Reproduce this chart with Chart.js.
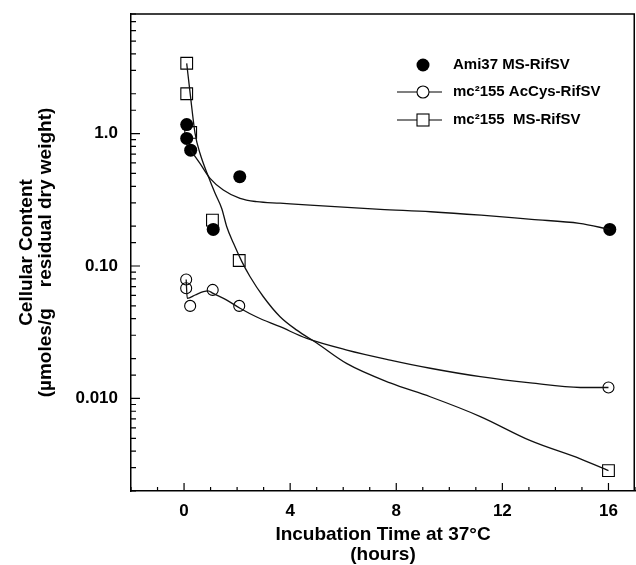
<!DOCTYPE html>
<html>
<head>
<meta charset="utf-8">
<script src="https://cdn.jsdelivr.net/npm/chart.js@4.4.1/dist/chart.umd.min.js"></script>
<style>
  html, body { margin: 0; padding: 0; background: #fff; }
  #wrap { width: 636px; height: 565px; position: relative; }
</style>
</head>
<body>
<div id="wrap"><canvas id="chart"></canvas></div>
<script>
// measured points (hours, umoles/g)
const ami37X = [0.1, 0.1, 0.25, 1.1, 2.1, 16.05];
const ami37Y = [1.17, 0.92, 0.75, 0.189, 0.473, 0.189];

const acCysX = [0.08, 0.08, 0.23, 1.08, 2.08, 16];
const acCysY = [0.079, 0.068, 0.05, 0.066, 0.05, 0.0121];

const msX = [0.1, 0.1, 0.25, 1.07, 2.08, 16];
const msY = [3.4, 2.0, 1.02, 0.222, 0.11, 0.00285];

// fitted curves
const ami37FitX = [0.25, 0.6, 0.98, 1.48, 2.11, 2.74, 3.62, 4.75, 7.4, 9.3, 11.2, 13.1, 14.9, 16.05];
const ami37FitY = [0.75, 0.596, 0.459, 0.375, 0.324, 0.306, 0.298, 0.288, 0.268, 0.257, 0.242, 0.225, 0.21, 0.189];

const acCysFitX = [0.08, 0.12, 0.42, 0.73, 0.9, 1.1, 1.61, 2.11, 2.74, 3.62, 4.63, 6.14, 7.77, 9.28, 11.17, 13.06, 14.94, 16];
const acCysFitY = [0.079, 0.057, 0.0604, 0.064, 0.065, 0.0621, 0.0553, 0.048, 0.0412, 0.0348, 0.0284, 0.0232, 0.0195, 0.0169, 0.0146, 0.0131, 0.0121, 0.0121];

const msFitX = [0.1, 0.23, 0.415, 0.6, 0.92, 1.17, 1.42, 1.61, 1.86, 2.18, 2.49, 2.99, 3.62, 4.25, 5.0, 6.14, 7.77, 9.28, 11.17, 13.06, 14.94, 16];
const msFitY = [3.39, 2.01, 1.005, 0.71, 0.472, 0.354, 0.272, 0.198, 0.149, 0.108, 0.083, 0.0586, 0.0414, 0.0328, 0.0262, 0.0183, 0.0131, 0.0103, 0.0073, 0.0048, 0.0035, 0.00285];

const xTickValues = [0, 4, 8, 12, 16];
const yTickValues = [1, 0.1, 0.01];
const yTickLabels = ['1.0', '0.10', '0.010'];

const legendLabels = ['Ami37 MS-RifSV', 'mc\u00b2155 AcCys-RifSV', 'mc\u00b2155  MS-RifSV'];
const xTitle = ['Incubation Time at 37\u00b0C', '(hours)'];
const yTitle = ['Cellular Content', '(\u00b5moles/g    residual dry weight)'];

const pts = (xs, ys) => xs.map((x, i) => ({ x: x, y: ys[i] }));

Chart.defaults.font.family = '"Liberation Sans", Arial, sans-serif';
Chart.defaults.color = '#000';

const fitLine = (xs, ys) => ({
  data: pts(xs, ys),
  showLine: true,
  borderColor: '#111',
  borderWidth: 1.3,
  pointRadius: 0,
  cubicInterpolationMode: 'monotone',
  fill: false
});

const decorations = {
  id: 'decorations',
  afterDraw(chart) {
    const ctx = chart.ctx;
    const a = chart.chartArea;
    const xs = chart.scales.x, ys = chart.scales.y;
    ctx.save();
    ctx.strokeStyle = '#000';

    // frame top and right
    ctx.lineWidth = 1.5;
    ctx.beginPath();
    ctx.moveTo(a.left, a.top);
    ctx.lineTo(a.right - 0.75, a.top);
    ctx.lineTo(a.right - 0.75, a.bottom);
    ctx.stroke();

    // inward ticks
    ctx.lineWidth = 1.2;
    ctx.beginPath();
    xs.ticks.forEach(t => {
      const px = xs.getPixelForValue(t.value);
      const len = t.value % 4 === 0 ? 8 : 4;
      ctx.moveTo(px, a.bottom);
      ctx.lineTo(px, a.bottom - len);
    });
    ys.ticks.forEach(t => {
      const py = ys.getPixelForValue(t.value);
      const lg = Math.log10(t.value);
      const len = Math.abs(lg - Math.round(lg)) < 1e-6 ? 9 : 5;
      ctx.moveTo(a.left, py);
      ctx.lineTo(a.left + len, py);
    });
    ctx.stroke();

    // axis titles
    ctx.fillStyle = '#000';
    ctx.font = 'bold 19px "Liberation Sans", Arial, sans-serif';
    ctx.textAlign = 'center';
    ctx.textBaseline = 'middle';
    const cx = (a.left + a.right) / 2;
    ctx.fillText(xTitle[0], cx, 535);
    ctx.fillText(xTitle[1], cx, 555);
    ctx.save();
    ctx.translate(27, (a.top + a.bottom) / 2);
    ctx.rotate(-Math.PI / 2);
    ctx.fillText(yTitle[0], 0, 0);
    ctx.fillText(yTitle[1], 0, 19);
    ctx.restore();

    // legend
    ctx.font = 'bold 15px "Liberation Sans", Arial, sans-serif';
    ctx.textAlign = 'left';
    const rows = [65, 92, 120];
    const mx = 423;
    ctx.lineWidth = 1.1;
    ctx.beginPath();
    ctx.arc(mx, rows[0], 6.5, 0, Math.PI * 2);
    ctx.fill();
    ctx.beginPath();
    ctx.moveTo(397, rows[1]); ctx.lineTo(417, rows[1]);
    ctx.moveTo(429, rows[1]); ctx.lineTo(442, rows[1]);
    ctx.stroke();
    ctx.beginPath();
    ctx.arc(mx, rows[1], 6, 0, Math.PI * 2);
    ctx.stroke();
    ctx.beginPath();
    ctx.moveTo(397, rows[2]); ctx.lineTo(417, rows[2]);
    ctx.moveTo(429, rows[2]); ctx.lineTo(442, rows[2]);
    ctx.stroke();
    ctx.strokeRect(mx - 6, rows[2] - 6, 12, 12);
    legendLabels.forEach((s, i) => ctx.fillText(s, 453, rows[i]));
    ctx.restore();
  }
};

new Chart(document.getElementById('chart'), {
  type: 'scatter',
  data: {
    datasets: [
      fitLine(ami37FitX, ami37FitY),
      fitLine(acCysFitX, acCysFitY),
      fitLine(msFitX, msFitY),
      {
        label: legendLabels[0],
        data: pts(ami37X, ami37Y),
        pointStyle: 'circle',
        pointRadius: 6.5,
        backgroundColor: '#000',
        borderColor: '#000',
        borderWidth: 0
      },
      {
        label: legendLabels[1],
        data: pts(acCysX, acCysY),
        pointStyle: 'circle',
        pointRadius: 5.5,
        backgroundColor: 'rgba(0,0,0,0)',
        borderColor: '#000',
        borderWidth: 1.1
      },
      {
        label: legendLabels[2],
        data: pts(msX, msY),
        pointStyle: 'rect',
        pointRadius: 8.3,
        backgroundColor: 'rgba(0,0,0,0)',
        borderColor: '#000',
        borderWidth: 1.1
      }
    ]
  },
  options: {
    responsive: true,
    maintainAspectRatio: false,
    animation: false,
    layout: { autoPadding: false, padding: { top: 14, right: 1, left: 0, bottom: 0 } },
    plugins: { legend: { display: false }, tooltip: { enabled: false } },
    scales: {
      x: {
        type: 'linear',
        min: -2,
        max: 17,
        afterFit: s => { s.height = 74; s.paddingLeft = 0; s.paddingRight = 0; },
        grid: { display: true, drawOnChartArea: false, drawTicks: true, tickLength: 10, color: 'rgba(0,0,0,0)' },
        border: { display: true, color: '#000', width: 1.5 },
        ticks: {
          stepSize: 1,
          autoSkip: false,
          maxRotation: 0,
          padding: 0,
          font: { size: 17, weight: 'bold' },
          callback: v => xTickValues.includes(v) ? String(v) : ''
        }
      },
      y: {
        type: 'logarithmic',
        min: 0.002,
        max: 8,
        afterFit: s => { s.width = 131; s.paddingTop = 0; s.paddingBottom = 0; },
        grid: { display: false, drawTicks: false },
        border: { display: true, color: '#000', width: 1.5 },
        ticks: {
          autoSkip: false,
          padding: 13,
          font: { size: 17, weight: 'bold' },
          callback: v => {
            const i = yTickValues.findIndex(t => Math.abs(Math.log10(v) - Math.log10(t)) < 1e-6);
            return i >= 0 ? yTickLabels[i] : '';
          }
        }
      }
    }
  },
  plugins: [decorations]
});
</script>
</body>
</html>
